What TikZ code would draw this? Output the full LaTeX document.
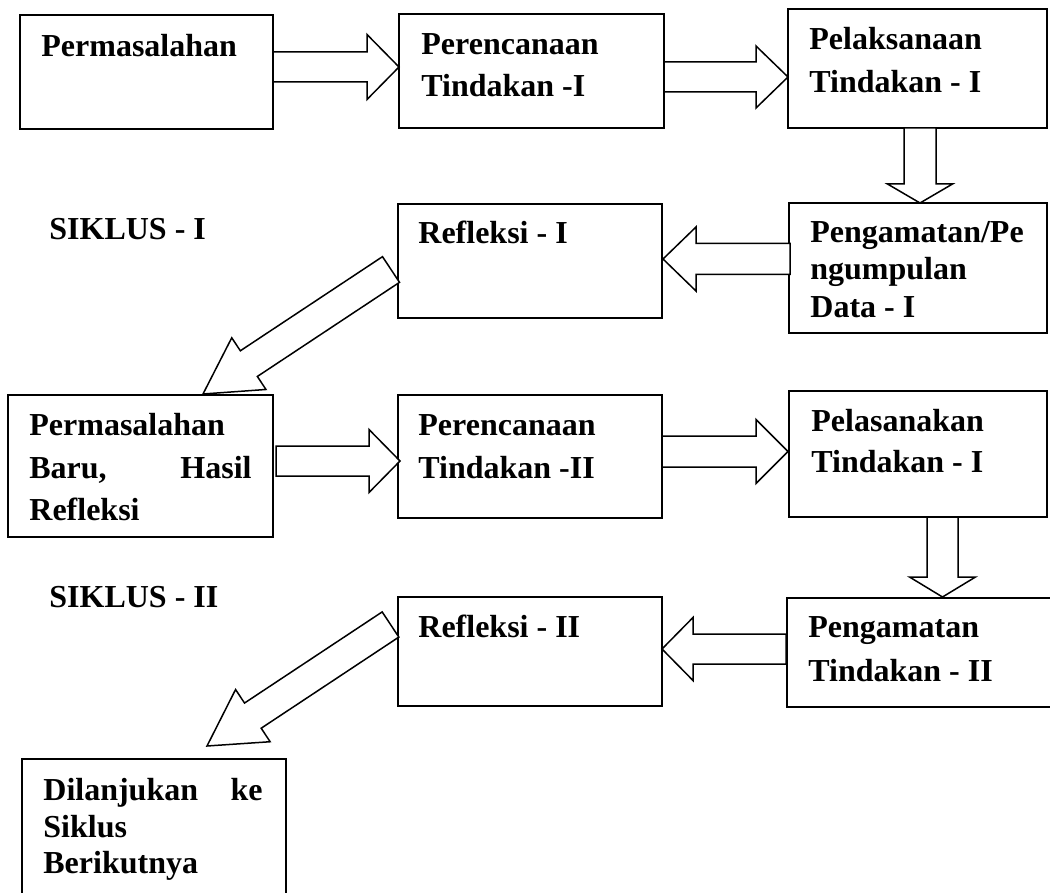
\documentclass[tikz,border=0pt]{standalone}
\usepackage{fontspec}
\setmainfont{Liberation Serif}
\usetikzlibrary{calc,fit}
\tikzset{
  box/.style={draw=black, line width=1.1pt, inner sep=0pt, fill=none},
  txt/.style={anchor=base west, inner sep=0pt, font=\fontsize{16}{19}\selectfont\bfseries},
  txte/.style={txt, anchor=base east},
  barr/.style={draw=black, line width=0.75pt, fill=white, line join=miter},
}
% block arrow: #1 tail, #2 tip, #3 shaft half width, #4 head half width, #5 head length
\newcommand\blockarrow[5]{%
  \coordinate (tmpH) at ($(#2)!#5!(#1)$);
  \draw[barr] ($(#1)!#3!90:(#2)$) -- ($(tmpH)!#3!90:(#2)$) -- ($(tmpH)!#4!90:(#2)$)
    -- (#2) -- ($(tmpH)!#4!-90:(#2)$) -- ($(tmpH)!#3!-90:(#2)$) -- ($(#1)!#3!-90:(#2)$) -- cycle;
}
\begin{document}
\begin{tikzpicture}[x=0.5pt,y=-0.5pt]
\useasboundingbox[fill=white] (0,0) rectangle (1050,893);

% boxes
\node[box, fit={(20,15) (273,129)}] (b1) {};
\node[box, fit={(399,14) (664,128)}] (b2) {};
\node[box, fit={(788,9) (1047,128)}] (b3) {};
\node[box, fit={(789,203) (1047,333)}] (b4) {};
\node[box, fit={(398,204) (662,318)}] (b5) {};
\node[box, fit={(8,395) (273,537)}] (b6) {};
\node[box, fit={(398,395) (662,518)}] (b7) {};
\node[box, fit={(789,391) (1047,517)}] (b8) {};
\node[box, fit={(787,598) (1053,707)}] (b9) {};
\node[box, fit={(398,597) (662,706)}] (b10) {};
\node[box, fit={(22,759) (286,905)}] (b11) {};

% arrow end points
\coordinate (a1s) at (273,67);    \coordinate (a1e) at (399,67);
\coordinate (a2s) at (664,77);    \coordinate (a2e) at (788,77);
\coordinate (a3s) at (920,128);   \coordinate (a3e) at (920,203);
\coordinate (a4s) at (790,259);   \coordinate (a4e) at (663,259);
\coordinate (a5s) at (391,269.5); \coordinate (a5e) at (203,394);
\coordinate (a6s) at (276,461);   \coordinate (a6e) at (400,461);
\coordinate (a7s) at (662,451.5); \coordinate (a7e) at (788,451.5);
\coordinate (a8s) at (942.5,517); \coordinate (a8e) at (942.5,597);
\coordinate (a9s) at (786,649);   \coordinate (a9e) at (662,649);
\coordinate (a10s) at (390.5,624.5); \coordinate (a10e) at (207,746);

\blockarrow{a1s}{a1e}{7.5pt}{16.25pt}{16pt}
\blockarrow{a2s}{a2e}{7.5pt}{15.5pt}{16pt}
\blockarrow{a3s}{a3e}{8pt}{16.25pt}{9.5pt}
\blockarrow{a4s}{a4e}{7.75pt}{16pt}{16.5pt}
\blockarrow{a5s}{a5e}{7.7pt}{15.5pt}{27.5pt}
\blockarrow{a6s}{a6e}{7.5pt}{15.75pt}{15.5pt}
\blockarrow{a7s}{a7e}{7.75pt}{16pt}{16pt}
\blockarrow{a8s}{a8e}{7.75pt}{16.5pt}{10pt}
\blockarrow{a9s}{a9e}{7.5pt}{15.75pt}{15.5pt}
\blockarrow{a10s}{a10e}{7.55pt}{15.65pt}{27.5pt}

% texts
\node[txt] (t1) at (41,57) {Permasalahan};
\node[txt] (t2a) at (421,55) {Perencanaan};
\node[txt] (t2b) at (421,97) {Tindakan -I};
\node[txt] (t3a) at (809,50) {Pelaksanaan};
\node[txt] (t3b) at (809,93) {Tindakan - I};
\node[txt] (s1) at (49,240) {SIKLUS - I};
\node[txt] (t5) at (418,244) {Refleksi - I};
\node[txt] (t4a) at (810,243) {Pengamatan/Pe};
\node[txt] (t4b) at (810,280) {ngumpulan};
\node[txt] (t4c) at (810,318) {Data - I};
\node[txt] (t6a) at (29,435) {Permasalahan};
\node[txt] (t6b) at (29,478) {Baru,};
\node[txte] (t6c) at (252,478) {Hasil};
\node[txt] (t6d) at (29,520) {Refleksi};
\node[txt] (t7a) at (418,435) {Perencanaan};
\node[txt] (t7b) at (418,478) {Tindakan -II};
\node[txt] (t8a) at (811,431) {Pelasanakan};
\node[txt] (t8b) at (811,473) {Tindakan - I};
\node[txt] (s2) at (49,607) {SIKLUS - II};
\node[txt] (t10) at (418,637) {Refleksi - II};
\node[txt] (t9a) at (808,637) {Pengamatan};
\node[txt] (t9b) at (808,681) {Tindakan - II};
\node[txt] (t11a) at (43,800) {Dilanjukan};
\node[txte] (t11b) at (263,800) {ke};
\node[txt] (t11c) at (43,837) {Siklus};
\node[txt] (t11d) at (43,873) {Berikutnya};
\end{tikzpicture}
\end{document}
